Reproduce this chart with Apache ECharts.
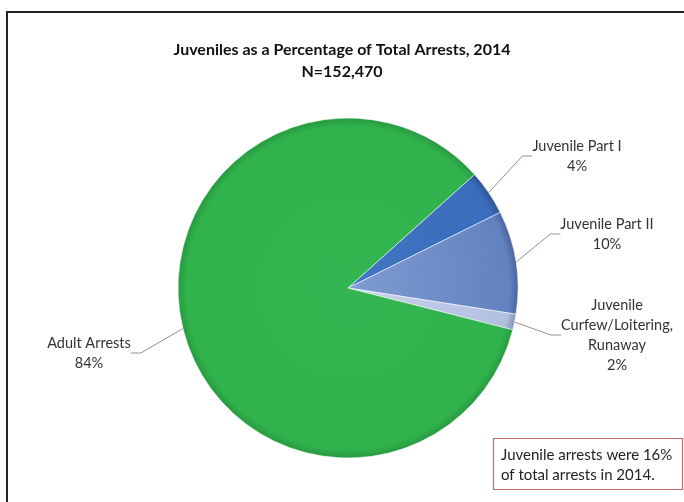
<!DOCTYPE html>
<html><head><meta charset="utf-8">
<script src="https://cdn.jsdelivr.net/npm/echarts@6/dist/echarts.min.js"></script>
<style>html,body{margin:0;padding:0;background:#fff}#c{width:684px;height:502px}</style>
</head><body><div id="c"></div>
<script>
var titleText = 'Juveniles as a Percentage of Total Arrests, 2014';
var subText = 'N=152,470';
var categories = ['Juvenile Part I', 'Juvenile Part II', 'Juvenile\nCurfew/Loitering,\nRunaway', 'Adult Arrests'];
var values = [4.3, 9.8, 1.5, 84.4];
var noteText = 'Juvenile arrests were 16%\nof total arrests in 2014.';

var colors = [
  {c0:'#3f76c4', c1:'#3a6dbb', edge:'#2d5796'},
  {c0:'#7f9bd2', c1:'#6482c0', edge:'#4a65a0'},
  {c0:'#c8d3ec', c1:'#b2c0df', edge:'#8393bb'},
  {c0:'#33b651', c1:'#30b24c', edge:'#289a40'}
];
var labelPos = [[577,156],[607,234],[617,335],[89,353]];
var CX = 348, CY = 288, R = 170;

function grad(k){
  return {type:'radial', x:CX, y:CY, r:R, global:true, colorStops:[
    {offset:0, color:colors[k].c0},{offset:0.95, color:colors[k].c1},{offset:1, color:colors[k].edge}]};
}
var data = categories.map(function(n,i){
  return {name:n, value:values[i], itemStyle:{color:grad(i)}};
});

var chart = echarts.init(document.getElementById('c'));
chart.setOption({
  animation:false,
  title:{text:titleText+'\n'+subText, left:'center', top:34,
    textStyle:{fontFamily:'Lato', fontWeight:'bold', fontSize:16, color:'#111', lineHeight:22}},
  graphic:[
    {type:'rect', shape:{x:7, y:12, width:700, height:520}, style:{fill:'none', stroke:'#222', lineWidth:2}},
    {type:'rect', shape:{x:493.5, y:438.5, width:189, height:51}, style:{fill:'#fff', stroke:'#c96a6e', lineWidth:1.2}},
    {type:'text', left:501, top:445, style:{text:noteText, font:'15px Lato', fill:'#222', lineHeight:20}}
  ],
  series:[{
    type:'pie', center:[CX,CY], radius:[0,R], startAngle:41.9, clockwise:true,
    data:data,
    itemStyle:{borderColor:'rgba(255,255,255,0.55)', borderWidth:1},
    label:{show:true, formatter:function(p){return p.name+'\n'+Math.round(p.value)+'%';},
      fontFamily:'Lato', fontSize:14.5, color:'#333', lineHeight:20, align:'center'},
    labelLine:{show:true, length:20, length2:10, lineStyle:{color:'#a08c88', width:1}},
    labelLayout:function(p){
      var pos = labelPos[p.dataIndex];
      return {x:pos[0], y:pos[1], align:'center', verticalAlign:'middle'};
    },
    emphasis:{disabled:true}
  }]
});
</script></body></html>
